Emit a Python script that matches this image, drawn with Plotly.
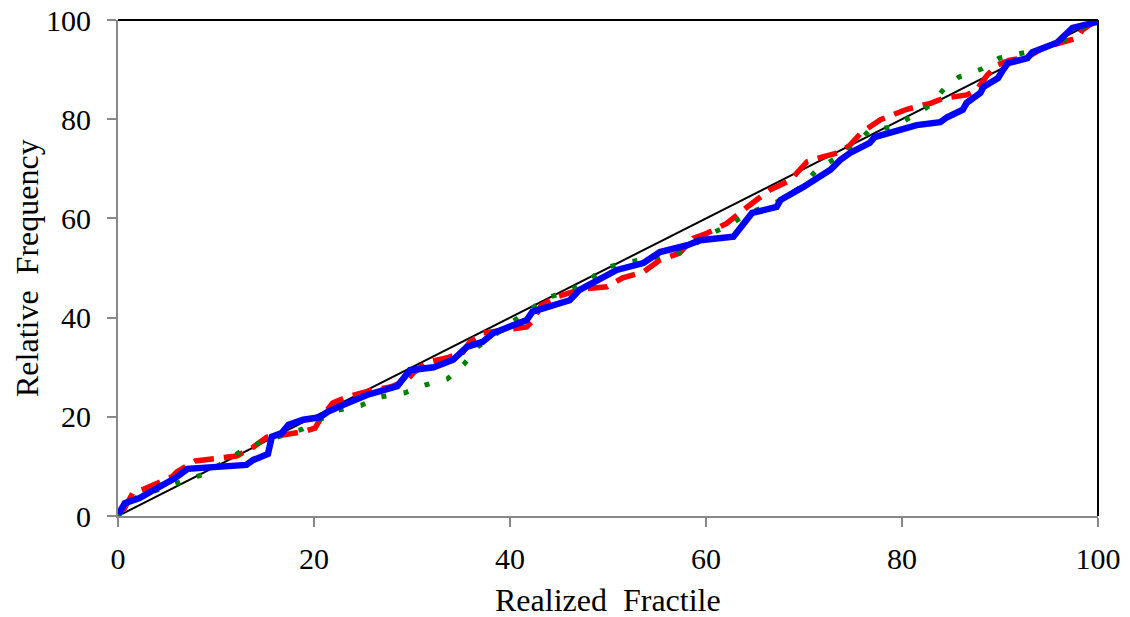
import plotly.graph_objects as go

# Diagonal reference
diag_x = [0, 100]
diag_y = [0, 100]

# Blue series (thick solid)
blue_x = [0, 0.2, 0.7, 2.2, 3.6, 4.6, 5.8, 7.1, 9.4, 13.1, 13.8, 15.3, 15.7, 16.7, 17.4, 18.9,
          20.6, 21.4, 23.0, 25.4, 28.5, 29.8, 32.2, 34.2, 35.6, 37.2, 38.3, 41.7, 42.3, 45.1,
          46.1, 47.1, 50.9, 53.6, 55.3, 58.1, 59.4, 62.8, 63.5, 64.7, 67.2, 67.6, 69.9, 72.7,
          73.7, 74.7, 76.7, 77.2, 81.5, 83.9, 84.6, 86.2, 86.6, 88.0, 88.3, 89.8, 90.3, 90.8,
          92.8, 93.3, 95.8, 96.4, 97.4, 99.9, 100]
blue_y = [0.5, 0.9, 2.6, 3.6, 5.2, 6.2, 7.6, 9.5, 9.9, 10.3, 11.3, 12.5, 16.0, 16.7, 18.4, 19.4,
          19.9, 21.0, 22.4, 24.4, 26.2, 29.4, 30.0, 31.5, 34.1, 35.1, 36.9, 39.5, 41.2, 43.1,
          43.5, 45.6, 49.6, 51.0, 53.2, 54.6, 55.6, 56.3, 58.0, 61.1, 62.3, 63.7, 66.3, 69.8,
          71.8, 73.2, 75.2, 76.4, 78.8, 79.4, 80.4, 81.9, 83.3, 85.3, 86.5, 88.3, 89.9, 91.3,
          92.3, 93.5, 95.4, 96.6, 98.4, 99.6, 100]

# Red series (dashed)
red_x = [0.5, 1.5, 2.6, 4.3, 5.5, 6.0, 7.9, 10.1, 12.1, 13.8, 15.2, 16.8, 18.9, 20.1, 20.6,
         21.9, 23.4, 26.0, 27.8, 29.5, 30.1, 31.5, 33.6, 35.2, 35.9, 37.2, 40.0, 41.7, 42.3,
         43.2, 44.8, 47.4, 49.9, 51.5, 53.6, 55.3, 57.3, 58.7, 60.1, 62.1, 64.2, 66.5, 68.6,
         70.3, 71.9, 73.4, 74.6, 75.8, 77.8, 80.5, 82.9, 84.2, 86.6, 87.6, 88.7, 89.7, 91.0,
         92.8, 94.4, 96.4, 97.9, 98.4, 99.5]
red_y = [1.0, 4.6, 5.4, 6.7, 7.9, 8.9, 11.1, 11.6, 12.1, 13.9, 15.9, 16.3, 17.0, 17.7, 19.4,
         22.8, 24.0, 25.4, 26.0, 27.4, 28.8, 31.0, 31.9, 33.0, 35.1, 36.9, 37.5, 38.1, 39.3,
         42.5, 44.2, 45.8, 46.2, 48.0, 49.2, 51.6, 53.0, 56.0, 57.0, 59.0, 62.3, 65.7, 67.7,
         71.4, 72.4, 73.2, 74.6, 77.2, 79.9, 82.0, 83.2, 84.2, 84.9, 85.9, 88.9, 90.9, 91.9,
         92.5, 94.4, 95.4, 96.4, 98.0, 99.5]

# Green series (dotted)
green_x = [0, 0.4, 2.0, 6.5, 8.7, 10.7, 12.6, 14.5, 16.5, 18.8, 22.4, 24.8, 26.8, 29.2, 31.3,
           33.6, 35.3, 36.7, 38.5, 40.2, 43.8, 45.8, 47.9, 49.5, 51.8, 54.1, 56.4, 58.5, 60.2,
           62.3, 64.2, 66.3, 68.3, 69.9, 71.4, 73.3, 75.2, 76.7, 79.0, 80.9, 82.8, 84.3, 85.8,
           88.1, 89.9, 92.2, 94.4, 96.6, 98.5, 100]
green_y = [0, 0.9, 3.9, 7.1, 8.4, 10.7, 13.1, 14.8, 16.0, 17.5, 21.3, 22.3, 24.0, 24.8, 26.4,
           27.6, 30.6, 34.1, 36.6, 39.1, 44.0, 45.2, 47.2, 50.0, 51.0, 52.0, 52.4, 54.2, 56.7,
           58.5, 61.0, 62.5, 64.3, 66.7, 70.0, 72.2, 74.4, 77.9, 78.4, 80.4, 82.7, 86.1, 88.5,
           90.1, 92.3, 93.3, 94.2, 96.0, 98.5, 100]

x_ticks = [0, 20, 40, 60, 80, 100]
y_ticks = [0, 20, 40, 60, 80, 100]
x_title = "Realized\u00a0\u00a0Fractile"
y_title = "Relative\u00a0\u00a0Frequency"

fig = go.Figure()
fig.add_trace(go.Scatter(x=diag_x, y=diag_y, mode="lines",
                         line=dict(color="black", width=2), showlegend=False))
fig.add_trace(go.Scatter(x=red_x, y=red_y, mode="lines",
                         line=dict(color="#FF0000", width=5.5, dash="20px,10px"), showlegend=False))
fig.add_trace(go.Scatter(x=green_x, y=green_y, mode="lines",
                         line=dict(color="#008000", width=5, dash="5px,17.5px"), showlegend=False))
fig.add_trace(go.Scatter(x=blue_x, y=blue_y, mode="lines",
                         line=dict(color="#0000FF", width=6.5), showlegend=False))

font_family = "Liberation Serif, Times New Roman, serif"
fs_title = 32
fs_tick = 30

fig.update_layout(
    width=1130, height=617,
    margin=dict(l=118, r=32, t=20, b=101),
    plot_bgcolor="white", paper_bgcolor="white",
    font=dict(family=font_family, size=fs_tick, color="black"),
    xaxis=dict(range=[0, 100], tickvals=x_ticks, ticktext=[str(v) for v in x_ticks],
               showgrid=False, zeroline=False, showline=True, linecolor="#888888", linewidth=2,
               ticks="outside", ticklen=9, tickwidth=2, tickcolor="#888888", automargin=False,
               ticklabelstandoff=6, ticklabeloverflow="allow",
               tickfont=dict(family=font_family, size=fs_tick)),
    yaxis=dict(range=[0, 100], tickvals=y_ticks, ticktext=[str(v) for v in y_ticks],
               showgrid=False, zeroline=False, showline=True, linecolor="#888888", linewidth=2,
               ticks="outside", ticklen=9, tickwidth=2, tickcolor="#888888", automargin=False,
               ticklabelstandoff=10, ticklabeloverflow="allow",
               tickfont=dict(family=font_family, size=fs_tick)),
    shapes=[
        dict(type="line", xref="paper", yref="paper", x0=0, x1=1, y0=1, y1=1,
             line=dict(color="black", width=2)),
        dict(type="line", xref="paper", yref="paper", x0=1, x1=1, y0=0, y1=1,
             line=dict(color="black", width=2)),
    ],
    annotations=[
        dict(text=x_title, xref="paper", yref="paper", x=0.5, y=0, yshift=-84,
             showarrow=False, xanchor="center", yanchor="middle",
             font=dict(family=font_family, size=fs_title)),
        dict(text=y_title, xref="paper", yref="paper", x=0, y=0.5, xshift=-91,
             showarrow=False, xanchor="center", yanchor="middle", textangle=-90,
             font=dict(family=font_family, size=fs_title)),
    ],
)

fig.write_html("out.html",
               config={"displayModeBar": False},
               post_script="document.body.style.margin='0px';document.body.style.overflow='hidden';")
